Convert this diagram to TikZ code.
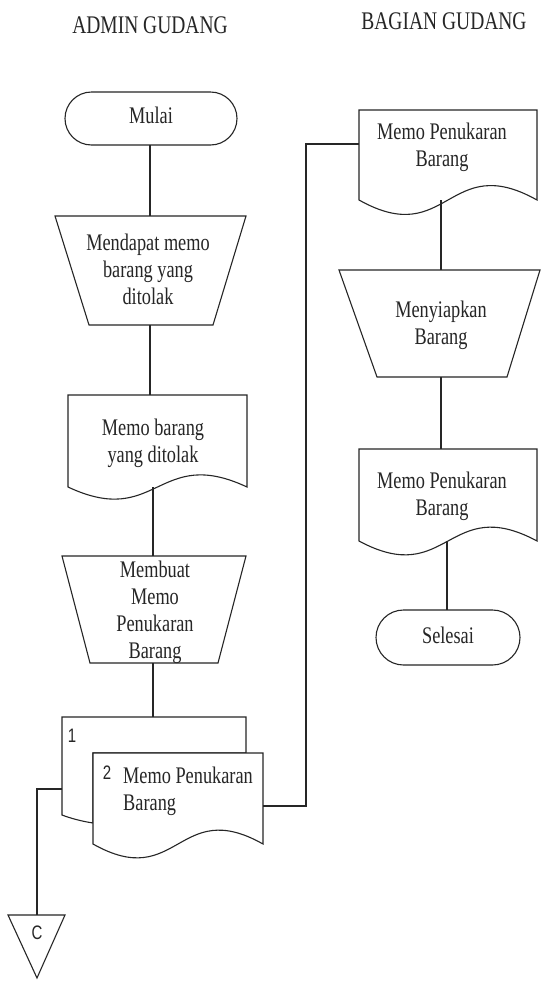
\documentclass[tikz,border=0pt]{standalone}
\usepackage{fontspec}
\usepackage{graphicx}
\setmainfont{Liberation Serif}
\newfontfamily\numfont{Liberation Sans}
% vertically stretched text block
\newcommand\stx[2][c]{\scalebox{1}[1.3]{\begin{tabular}{@{}#1@{}}#2\end{tabular}}}
% document shape: x1, x2, top, bottom(left/right end), wave control offset
\newcommand\mydocshape[5]{%
  \draw[shp] (#1,#3) -- (#2,#3) -- (#2,#4)
    .. controls ({(#1+#2)/2},{#4-#5}) and ({(#1+#2)/2},{#4+#5}) .. (#1,#4) -- cycle;}
\begin{document}
\begin{tikzpicture}[x=1pt,y=-1pt,
  shp/.style={draw=black!85, line width=1.1pt, fill=white},
  conn/.style={draw=black!85, line width=1.1pt},
  lbl/.style={font=\fontsize{18.3}{20.8}\selectfont, inner sep=0pt, text=black!85},
  ttl/.style={font=\fontsize{19.5}{22}\selectfont, inner sep=0pt, text=black!85},
  numlbl/.style={font=\numfont\fontsize{15}{18}\selectfont, inner sep=0pt, text=black!85}]
\useasboundingbox (0,0) rectangle (542,983);
\fill[white] (0,0) rectangle (542,983);

% titles
\node[ttl] (t1) at (150,28) {\stx{ADMIN GUDANG}};
\node[ttl] (t2) at (444,24) {\stx{BAGIAN GUDANG}};

% ---------- left lane shapes ----------
\draw[shp, rounded corners=26.5] (65,92) rectangle (237,145);
\node[lbl] (mulai) at (151,118) {\stx{Mulai}};
\coordinate (mulaiS) at (150,145);

\draw[shp] (55,216) -- (246,216) -- (213,325) -- (89,325) -- cycle;
\node[lbl] (trap1) at (148,272) {\stx{Mendapat memo\\barang yang\\ditolak}};
\coordinate (trap1N) at (150,216);
\coordinate (trap1S) at (150,325);

\mydocshape{68}{247}{395}{487}{42}
\node[lbl] (doc1) at (153,443.5) {\stx{Memo barang\\yang ditolak}};
\coordinate (doc1N) at (150,395);
\coordinate (doc1S) at (153,487);

\draw[shp] (62,556) -- (246,556) -- (218,663) -- (90,663) -- cycle;
\node[lbl] (trap2) at (155,612.5) {\stx{Membuat\\Memo\\Penukaran\\Barang}};
\coordinate (trap2N) at (153,556);
\coordinate (trap2S) at (153,663);

% multi document
\draw[shp] (62,717) -- (246,717) -- (246,753) -- (93,753) -- (93,823)
  .. controls (80,821) and (70,818) .. (62,815) -- cycle;
\mydocshape{93}{263}{753}{844}{48}
\node[numlbl] (n1) at (72,736) {\scalebox{1}[1.3]{1}};
\node[numlbl] (n2) at (107,773) {\scalebox{1}[1.3]{2}};
\node[lbl, anchor=west] (mdoc) at (123,791.5) {\stx[l]{Memo Penukaran\\Barang}};
\coordinate (mdocN) at (153,717);
\coordinate (mdocW) at (62,789);
\coordinate (mdocE) at (263,806);

% off-page connector
\draw[shp] (8,915) -- (65,915) -- (37,978) -- cycle;
\node[numlbl] (offc) at (37,933) {\scalebox{1}[1.3]{C}};
\coordinate (offcN) at (37,915);

% ---------- right lane shapes ----------
\mydocshape{359}{537}{110}{200}{50}
\node[lbl] (docA) at (442,147.5) {\stx{Memo Penukaran\\Barang}};
\coordinate (docAW) at (359,144);
\coordinate (docAS) at (441,200);

\draw[shp] (339,270) -- (540,270) -- (507,377) -- (377,377) -- cycle;
\node[lbl] (trap3) at (441,325.5) {\stx{Menyiapkan\\Barang}};
\coordinate (trap3N) at (441,270);
\coordinate (trap3S) at (441,377);

\mydocshape{359}{537}{449}{541}{48}
\node[lbl] (docB) at (442,496.5) {\stx{Memo Penukaran\\Barang}};
\coordinate (docBN) at (441,449);
\coordinate (docBS) at (447,541);

\draw[shp, rounded corners=27.5] (376,610) rectangle (520,665);
\node[lbl] (selesai) at (448,638) {\stx{Selesai}};
\coordinate (selesaiN) at (447,610);

% ---------- connectors ----------
\draw[conn] (mulaiS) -- (trap1N);
\draw[conn] (trap1S) -- (doc1N);
\draw[conn] (doc1S) -- (trap2N);
\draw[conn] (trap2S) -- (mdocN);
\draw[conn] (mdocW) -| (offcN);
\coordinate (bend) at (306,806);
\draw[conn] (mdocE) -- (bend) |- (docAW);
\draw[conn] (docAS) -- (trap3N);
\draw[conn] (trap3S) -- (docBN);
\draw[conn] (docBS) -- (selesaiN);
\end{tikzpicture}
\end{document}
